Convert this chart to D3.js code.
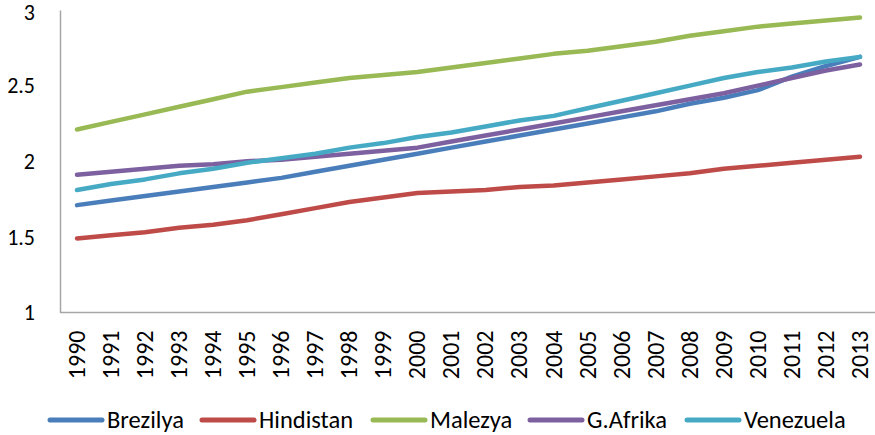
<!DOCTYPE html>
<html>
<head>
<meta charset="utf-8">
<script src="https://cdn.jsdelivr.net/npm/d3@7"></script>
<style>
  html, body { margin: 0; padding: 0; background: #fff; }
  svg text { font-family: Carlito, "Open Sans", "Liberation Sans", sans-serif; fill: #000; }
</style>
</head>
<body>
<div id="chart"></div>
<script>
// years on the x axis
const years = d3.range(1990, 2014).map(String);

// values
const brezilya  = [1.71, 1.74, 1.77, 1.80, 1.83, 1.86, 1.89, 1.93, 1.97, 2.01, 2.05, 2.09, 2.13, 2.17, 2.21, 2.25, 2.29, 2.33, 2.38, 2.42, 2.47, 2.56, 2.63, 2.69];
const hindistan = [1.49, 1.51, 1.53, 1.56, 1.58, 1.61, 1.65, 1.69, 1.73, 1.76, 1.79, 1.80, 1.81, 1.83, 1.84, 1.86, 1.88, 1.90, 1.92, 1.95, 1.97, 1.99, 2.01, 2.03];
const malezya   = [2.21, 2.26, 2.31, 2.36, 2.41, 2.46, 2.49, 2.52, 2.55, 2.57, 2.59, 2.62, 2.65, 2.68, 2.71, 2.73, 2.76, 2.79, 2.83, 2.86, 2.89, 2.91, 2.93, 2.95];
const gafrika   = [1.91, 1.93, 1.95, 1.97, 1.98, 2.00, 2.01, 2.03, 2.05, 2.07, 2.09, 2.13, 2.17, 2.21, 2.25, 2.29, 2.33, 2.37, 2.41, 2.45, 2.50, 2.55, 2.60, 2.64];
const venezuela = [1.81, 1.85, 1.88, 1.92, 1.95, 1.99, 2.02, 2.05, 2.09, 2.12, 2.16, 2.19, 2.23, 2.27, 2.30, 2.35, 2.40, 2.45, 2.50, 2.55, 2.59, 2.62, 2.66, 2.69];

const seriesNames = ["Brezilya", "Hindistan", "Malezya", "G.Afrika", "Venezuela"];
const seriesColors = ["#4A7EBB", "#BE4B48", "#98B954", "#7D60A0", "#46AAC5"];
const yTicks = [1, 1.5, 2, 2.5, 3];

const series = [brezilya, hindistan, malezya, gafrika, venezuela].map((vals, i) => ({
  name: seriesNames[i],
  color: seriesColors[i],
  values: vals
}));

const W = 875, H = 435;
const plot = { left: 60, right: 877, top: 10, bottom: 312.5 };

const svg = d3.select("#chart").append("svg")
  .attr("width", W)
  .attr("height", H);

const x = d3.scaleBand()
  .domain(years)
  .range([plot.left, plot.right]);

const y = d3.scaleLinear()
  .domain([1, 3])
  .range([plot.bottom, plot.top]);

// y axis (no tick marks, labels only)
const yAxis = svg.append("g")
  .attr("transform", `translate(${plot.left},0)`)
  .call(d3.axisLeft(y).tickValues(yTicks).tickSize(0).tickPadding(25)
    .tickFormat(d => String(d)));
yAxis.select(".domain").attr("stroke", "#A6A6A6").attr("stroke-width", 1.5);
yAxis.selectAll("text")
  .attr("font-family", null)
  .style("font-size", "22px")
  .attr("dy", d => d === 3 ? "0.42em" : "0.33em");

// x axis with rotated year labels
const xAxis = svg.append("g")
  .attr("transform", `translate(0,${plot.bottom})`)
  .call(d3.axisBottom(x).tickSize(0).tickPadding(0));
xAxis.select(".domain").attr("stroke", "#A6A6A6").attr("stroke-width", 1.5)
  .attr("d", `M${plot.left},0H${plot.right}`);
xAxis.selectAll("text")
  .attr("font-family", null)
  .style("font-size", "24px")
  .attr("transform", "rotate(-90)")
  .attr("x", -18)
  .attr("y", 0)
  .attr("dy", "0.33em")
  .style("text-anchor", "end");

// lines
const line = d3.line()
  .x((d, i) => x(years[i]) + x.bandwidth() / 2)
  .y(d => y(d));

svg.selectAll(".series")
  .data(series)
  .enter()
  .append("path")
  .attr("class", "series")
  .attr("fill", "none")
  .attr("stroke", d => d.color)
  .attr("stroke-width", 4.5)
  .attr("stroke-linecap", "round")
  .attr("stroke-linejoin", "round")
  .attr("d", d => line(d.values));

// legend
const legendX = [50, 202, 373, 530, 687];
const legend = svg.append("g").attr("transform", "translate(0,420)");
const items = legend.selectAll("g")
  .data(series)
  .enter()
  .append("g")
  .attr("transform", (d, i) => `translate(${legendX[i]},0)`);

items.append("line")
  .attr("x1", 0).attr("x2", 52)
  .attr("stroke", d => d.color)
  .attr("stroke-width", 5)
  .attr("stroke-linecap", "round");

items.append("text")
  .attr("x", 57)
  .attr("dy", "0.33em")
  .style("font-size", "24.5px")
  .text(d => d.name);
</script>
</body>
</html>
